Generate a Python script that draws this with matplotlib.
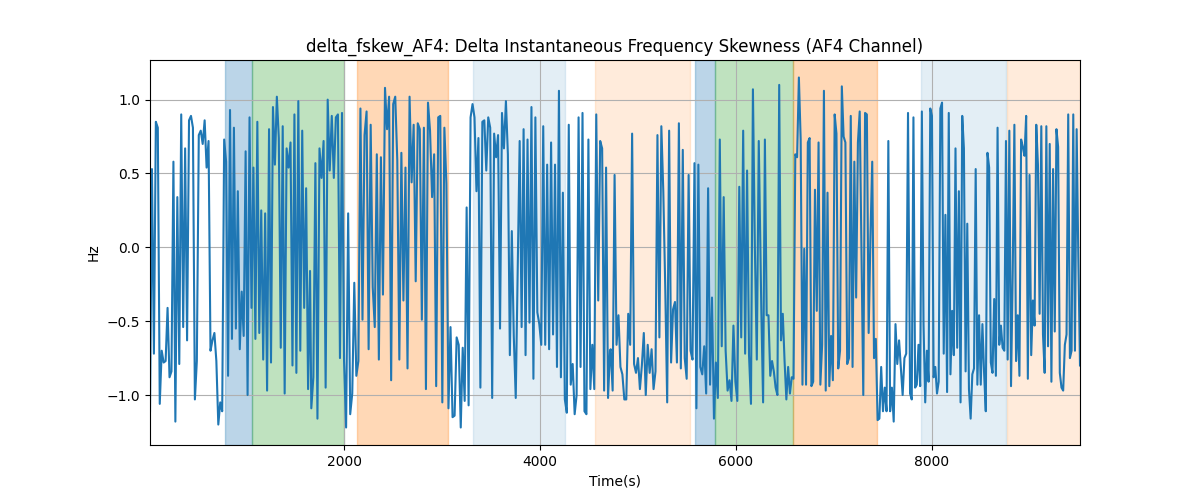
import numpy as np
import matplotlib
matplotlib.use("Agg")
import matplotlib.pyplot as plt

# Signal values, in six consecutive stretches
seg1_vals = [-1.11, 0.53, -0.72, 0.85, 0.81, -1.06, -0.70, -0.78, -0.77, -0.41,
             -0.88, -0.84, 0.58, -1.18, 0.34, -0.79, 0.90, -0.54, 0.67, -0.63,
             0.86, 0.89, 0.81, -1.03, -0.77, 0.76, 0.79, 0.70, 0.86, 0.54,
             0.72, -0.70, -0.63, -0.58, -0.77, -1.20, -1.05, -1.11, 0.73, 0.58,
             -0.87, 0.93, -0.62, 0.81, -0.55, 0.38, -0.69, -0.30, -0.60, 0.65,
             -1.00, 0.88, -0.41, 0.54, -0.62, 0.85, -0.58, 0.25, -0.76, 0.23,
             -0.97, 0.80, -0.78, 0.95, 0.56, 1.02, 0.74, -0.68, 0.82, -0.99,
             0.67, 0.54, 0.71, -0.80, 0.90, -0.85, 0.99, -0.70, 0.79, -0.41,
             0.40, -0.96, -0.16]
seg2_vals = [-1.09, -0.88, 0.57, -1.16, 0.67, 0.47, 0.72, -0.95, 1.00, 0.52,
             0.89, 0.47, 0.88, 0.90, -0.75, 0.91, -0.77, -1.22, 0.23, -1.13,
             -0.99, -0.24, -0.87, -0.77, 0.94, -0.49, 0.76, 0.92, -0.69, 0.83,
             -0.27, -0.54, 0.63, -0.76, 0.61, -0.32, 1.08, 0.80, 1.02, -0.90,
             0.97, 1.02, 0.59, -0.76, 0.64, -0.36, 0.54, -0.82, 1.02, 0.44,
             0.83, -0.23, 0.84, 0.80, -0.49, 0.81, -0.96, 0.98, 0.79, 0.34,
             0.63, -0.94, 0.88, 0.89, -1.05, 0.81, 0.43, -1.09, -0.54, -1.15,
             -1.14, -0.61, -0.66]
seg3_vals = [-1.22, -0.68, -1.04, 0.27, -1.07, 0.88, 0.97, 0.88, 0.38, 0.74,
             -0.95, 0.85, 0.86, 0.52, 0.88, 0.81, -1.02, 0.77, 0.61, 0.76,
             -0.55, 0.91, 0.67, 0.99, 0.63, -0.73, 0.11, -0.60, -1.02, -0.16,
             0.72, -0.54, 0.80, -0.73, 0.73, -0.51, 0.95, -0.89, 0.88, -0.44,
             -0.52, -0.66, 0.82, -0.66, 0.56, -0.69, 0.71, -0.59, 0.56, -0.81,
             1.06, -0.88, 0.37, -1.03, -1.12, 0.83, -0.93, -0.79, -1.13, -1.00,
             0.88, -0.81, 0.91, -1.11, -1.13, 0.73, -0.96, -0.66, -0.96, 0.90,
             -0.36, 0.72, 0.67, -0.97, 0.54, -1.02, -0.70]
seg4_vals = [-0.69, -0.97, 0.49, -0.66, -0.46, -0.81, -0.86, -1.03, -1.03, -0.45,
             -0.66, 0.77, -0.79, -0.85, -0.75, -0.96, -0.80, -0.58, -1.00, -0.66,
             -0.85, -0.69, -0.96, -0.84, 0.76, -0.61, 0.82, 0.38, -0.27, -1.05,
             0.79, -0.78, -0.42, -0.37, -0.78, 0.84, -0.82, 0.66, -0.75, -0.89,
             0.49, -0.70, -0.76, 0.57, -1.09, 0.56, -0.81, -0.86, -0.67, -0.99,
             0.40, -0.93, -0.34, -1.16, -0.78, -1.02, 0.73, -0.67, 0.34, -0.70,
             -0.97, -0.90, -1.04, -0.53, -0.91, -1.04, 0.41, -0.61, 0.79, -0.72,
             0.52, -0.73, -1.06, 1.07, 0.00, -0.76, 0.72]
seg5_vals = [-0.42, -1.05, 0.73, -0.46, -0.46, -0.87, -0.77, -0.84, -0.95, -1.00,
             1.10, -0.63, -0.45, -0.77, -1.03, -0.81, -0.99, -0.88, -0.89, 0.63,
             0.61, 1.15, 0.73, -0.93, -0.01, -0.93, 0.71, 0.74, -0.94, -0.91,
             0.39, -0.43, 0.71, -0.93, -0.66, 1.06, -0.97, 0.37, -0.94, -0.60,
             -0.90, 0.90, 0.77, -0.82, -0.70, 1.09, 0.75, 0.71, -0.79, -0.75,
             0.89, -0.81, 0.58, -0.34, 0.71, 0.92, -0.06, -1.00, 0.91, 0.90,
             -0.58, 0.07, 0.58, -0.75, -0.62, -1.17, -1.16, -0.81, -1.11, -0.95,
             -1.11, 0.72, -1.11, -0.95, -1.18, -0.52, -0.79, -0.63, -0.82, -1.00,
             -0.75, -0.72, 0.91]
seg6_vals = [-0.99, -1.03, 0.88, -0.95, -0.93, -0.66, -0.94, 0.92, -0.52, -1.05,
             -0.70, -0.91, 0.94, 0.89, -0.88, -0.81, -0.99, -0.91, 0.94, 0.98,
             -0.72, 0.22, -0.98, 0.91, -0.86, -0.43, -0.73, 0.67, -0.68, 0.38,
             -1.05, 0.89, 0.67, -0.84, 0.16, -0.96, -1.16, -0.86, -0.82, 0.53,
             -0.93, -0.46, -0.93, -0.52, -0.85, -1.11, 0.64, 0.54, -0.78, -0.85,
             -0.35, -0.87, 0.81, -0.66, -0.53, -0.68, -0.70, 0.72, -0.76, 0.79,
             -0.94, -0.18, 0.83, -0.77, -0.46, -0.87, 0.73, 0.68, 0.62, 0.89,
             -0.89, 0.49, -0.73, -0.36, -0.53, 0.83, 0.56, -0.45, 0.82, -0.59,
             -0.85, 0.82, -0.67, 0.70, -0.91, 0.53, -0.57, 0.80, 0.68, -0.85,
             -0.95, -0.97, -0.66, -0.59, 0.90, -0.75, -0.70, 0.90, -0.70, 0.80,
             -0.07, -0.80]

# Time span (s) covered by each stretch
seg_times = [(20, 1653), (1666, 3170), (3191, 4714),
             (4721, 6232), (6258, 7755), (7776, 9510)]

# Shaded intervals: (start, end, color, alpha)
span_starts = [785, 1057, 2128, 3312, 4560, 5584, 5788, 6584, 7887, 8761]
span_ends = [1057, 2000, 3063, 4254, 5530, 5788, 6584, 7435, 8751, 9510]
span_colors = ["tab:blue", "tab:green", "tab:orange", "tab:blue", "tab:orange",
               "tab:blue", "tab:green", "tab:orange", "tab:blue", "tab:orange"]
span_alphas = [0.3, 0.3, 0.3, 0.12, 0.15, 0.3, 0.3, 0.3, 0.12, 0.15]

segments = [seg1_vals, seg2_vals, seg3_vals, seg4_vals, seg5_vals, seg6_vals]
t = np.concatenate([np.linspace(a, b, len(v)) for (a, b), v in zip(seg_times, segments)])
y = np.concatenate([np.array(v) for v in segments])

fig, ax = plt.subplots(figsize=(12, 5), dpi=100)
for s, e, c, a in zip(span_starts, span_ends, span_colors, span_alphas):
    ax.axvspan(s, e, color=c, alpha=a)
ax.plot(t, y, color="tab:blue", linewidth=1.5)
ax.set_xlim(t[0], t[-1])
ax.grid(True)
ax.set_title("delta_fskew_AF4: Delta Instantaneous Frequency Skewness (AF4 Channel)")
ax.set_xlabel("Time(s)")
ax.set_ylabel("Hz")
fig.savefig("out.png", dpi=100)
